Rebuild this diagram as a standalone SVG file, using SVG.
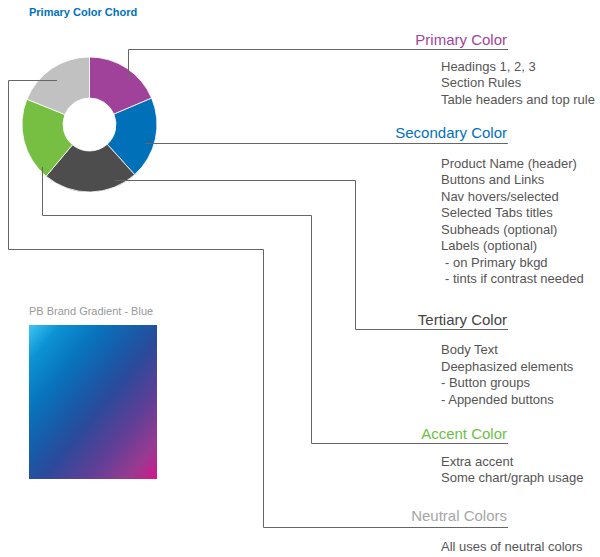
<svg xmlns="http://www.w3.org/2000/svg" width="600" height="557" viewBox="0 0 600 557">
<defs>
<style>
text{font-family:"Liberation Sans",Arial,Helvetica,sans-serif}
.h{font-size:15px;text-anchor:end}
.b{font-size:13px;fill:#555}
.seg{stroke:#fff;stroke-width:0.8}
.c{fill:none;stroke:#666;stroke-width:1}
</style>
<linearGradient id="pbg" x1="0" y1="0" x2="1" y2="1">
<stop offset="0" stop-color="#40c6f2"/>
<stop offset="0.12" stop-color="#0c93d4"/>
<stop offset="0.28" stop-color="#0874bd"/>
<stop offset="0.45" stop-color="#1a58a6"/>
<stop offset="0.55" stop-color="#2c4a9a"/>
<stop offset="0.72" stop-color="#5e3f96"/>
<stop offset="0.88" stop-color="#973b91"/>
<stop offset="1" stop-color="#d4168c"/>
</linearGradient>
</defs>
<rect width="600" height="557" fill="#fff"/>

<g id="chord">
<text x="29" y="16" font-size="11" font-weight="bold" fill="#0072bc">Primary Color Chord</text>
<path class="seg" fill="#a0419a" d="M89.5,57 A67.5,67.5 0 0 1 151.63,98.13 L113.89,114.15 A26.5,26.5 0 0 0 89.5,98 Z"/>
<path class="seg" fill="#0071b9" d="M151.63,98.13 A67.5,67.5 0 0 1 134.67,174.66 L107.23,144.19 A26.5,26.5 0 0 0 113.89,114.15 Z"/>
<path class="seg" fill="#4d4d4d" d="M134.67,174.66 A67.5,67.5 0 0 1 46.11,176.21 L72.47,144.80 A26.5,26.5 0 0 0 107.23,144.19 Z"/>
<path class="seg" fill="#76bf43" d="M46.11,176.21 A67.5,67.5 0 0 1 26.92,99.21 L64.93,114.57 A26.5,26.5 0 0 0 72.47,144.80 Z"/>
<path class="seg" fill="#c1c1c1" d="M26.92,99.21 A67.5,67.5 0 0 1 89.5,57 L89.5,98 A26.5,26.5 0 0 0 64.93,114.57 Z"/>
</g>

<g id="connectors">
<path class="c" d="M128.5,78 V49.5 H508"/>
<path class="c" d="M145,143.5 H508"/>
<path class="c" d="M115,180.5 H355.5 V329.5 H508"/>
<path class="c" d="M42.5,167 V215.5 H311.5 V443.5 H508"/>
<path class="c" d="M57,80.5 H8.5 V249.5 H263.5 V527.5 H508"/>
</g>

<g id="primary">
<text class="h" x="507" y="45" fill="#a0449a">Primary Color</text>
<text class="b" x="441" y="70.5">Headings 1, 2, 3</text>
<text class="b" x="441" y="87">Section Rules</text>
<text class="b" x="441" y="103.5">Table headers and top rule</text>
</g>

<g id="secondary">
<text class="h" x="507" y="138" fill="#0072bc">Secondary Color</text>
<text class="b" x="441" y="167.5">Product Name (header)</text>
<text class="b" x="441" y="184">Buttons and Links</text>
<text class="b" x="441" y="200.5">Nav hovers/selected</text>
<text class="b" x="441" y="217">Selected Tabs titles</text>
<text class="b" x="441" y="233.5">Subheads (optional)</text>
<text class="b" x="441" y="250">Labels (optional)</text>
<text class="b" x="445" y="266.5">- on Primary bkgd</text>
<text class="b" x="445" y="283">- tints if contrast needed</text>
</g>

<g id="tertiary">
<text class="h" x="507" y="324.5" fill="#444">Tertiary Color</text>
<text class="b" x="441" y="354">Body Text</text>
<text class="b" x="441" y="370.5">Deephasized elements</text>
<text class="b" x="441" y="387">- Button groups</text>
<text class="b" x="441" y="403.5">- Appended buttons</text>
</g>

<g id="accent">
<text class="h" x="507" y="438.5" fill="#6cbf44">Accent Color</text>
<text class="b" x="441" y="465.5">Extra accent</text>
<text class="b" x="441" y="482">Some chart/graph usage</text>
</g>

<g id="neutral">
<text class="h" x="507" y="521" fill="#a6a6a6">Neutral Colors</text>
<text class="b" x="441" y="551">All uses of neutral colors</text>
</g>

<g id="gradient">
<text x="29" y="315" font-size="11" fill="#999">PB Brand Gradient - Blue</text>
<rect x="29" y="325" width="128" height="154" fill="url(#pbg)"/>
</g>
</svg>
